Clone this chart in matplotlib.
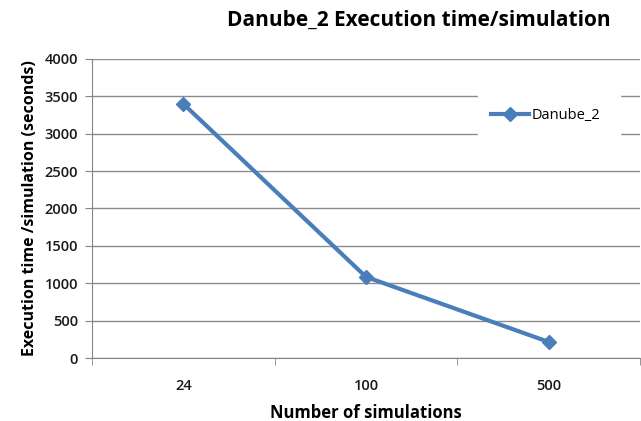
import matplotlib
matplotlib.use("Agg")
import matplotlib.pyplot as plt
import numpy as np

categories = ["24", "100", "500"]
values = [3400, 1085, 215]
series_name = "Danube_2"

plt.rcParams['font.family'] = ['Open Sans', 'DejaVu Sans']

fig = plt.figure(figsize=(6.41, 4.21), dpi=100)
ax = fig.add_axes([92/641, 1-358/421, 548/641, (358-59)/421])

x = np.arange(len(categories))
ax.plot(x, values, color='#4a7ebb', lw=3, marker='D', markersize=7, label=series_name, zorder=3)

ax.set_xlim(-0.5, len(categories)-0.5)
ax.set_ylim(0, 4000)
ax.set_yticks(np.arange(0, 4001, 500))
ax.set_xticks(x)
ax.set_xticklabels(categories)
ax.set_xticks(np.arange(-0.5, len(categories), 1.0), minor=True)
ax.tick_params(axis='x', which='major', length=0, pad=15, labelsize=10.5)
ax.tick_params(axis='x', which='minor', length=5, color='#868686', direction='out')
ax.tick_params(axis='y', length=5, color='#868686', labelsize=10.5, pad=5)
for lbl in ax.get_xticklabels() + ax.get_yticklabels():
    lbl.set_fontweight('semibold')
    lbl.set_color('#1a1a1a')

ax.grid(axis='y', color='#8c8c8c', lw=1)
ax.set_axisbelow(True)
for s in ['top', 'right']:
    ax.spines[s].set_visible(False)
ax.spines['left'].set_color('#868686')
ax.spines['bottom'].set_color('#868686')

ax.set_xlabel("Number of simulations", fontsize=12, fontweight='bold', labelpad=8)
ax.set_ylabel("Execution time /simulation (seconds)", fontsize=11.5, fontweight='bold', labelpad=5)
fig.text(419/641, 1-20/421, "Danube_2 Execution time/simulation", fontsize=15,
         fontweight='bold', ha='center', va='center')

x0, x1, ytop, ybot = 478, 620, 95, 137
leg = ax.legend(loc='center left',
                bbox_to_anchor=((x0-92)/548, (358-ybot)/299, (x1-x0)/548, (ybot-ytop)/299),
                mode='expand', frameon=True, fontsize=10.5, handlelength=2.6,
                handletextpad=0.2, borderaxespad=0, borderpad=0.9)
leg.get_frame().set_facecolor('white')
leg.get_frame().set_edgecolor('white')
leg.get_frame().set_alpha(1)
leg.get_frame().set_boxstyle('square', pad=0)

fig.savefig("out.png", dpi=100)
